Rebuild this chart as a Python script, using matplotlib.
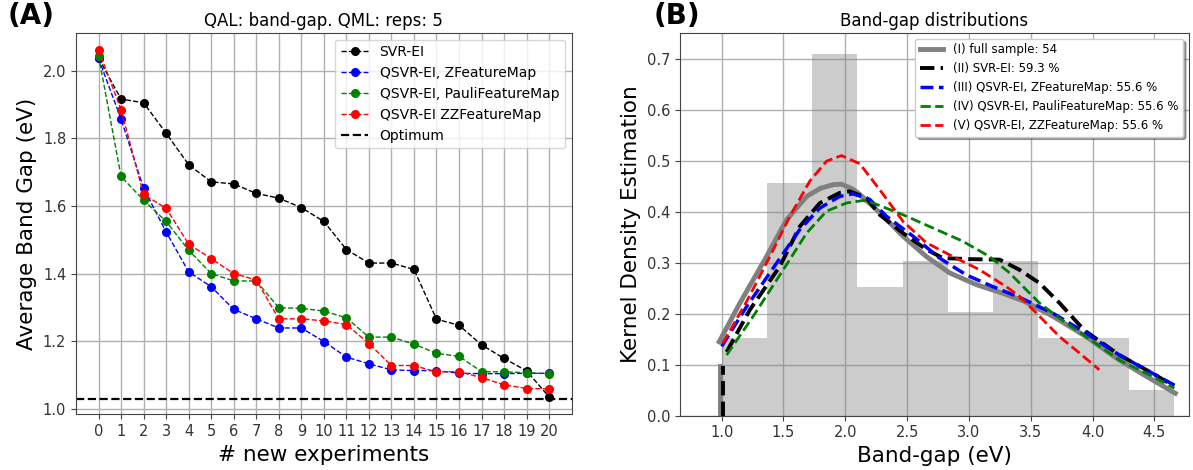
import numpy as np
import matplotlib
matplotlib.use('Agg')
import matplotlib.pyplot as plt

# --- panel A: average band gap vs number of new experiments ---
n_exp = list(range(21))
svr_ei = [2.037, 1.916, 1.905, 1.815, 1.722, 1.671, 1.665, 1.637, 1.623, 1.595, 1.554,
          1.471, 1.431, 1.431, 1.412, 1.265, 1.247, 1.189, 1.149, 1.112, 1.035]
qsvr_z = [2.036, 1.857, 1.652, 1.523, 1.405, 1.361, 1.294, 1.266, 1.239, 1.239, 1.199,
          1.153, 1.133, 1.115, 1.113, 1.113, 1.105, 1.104, 1.104, 1.105, 1.105]
qsvr_pauli = [2.044, 1.687, 1.617, 1.554, 1.469, 1.400, 1.378, 1.378, 1.299, 1.297, 1.289,
              1.269, 1.212, 1.212, 1.191, 1.164, 1.155, 1.110, 1.109, 1.107, 1.103]
qsvr_zz = [2.061, 1.885, 1.634, 1.593, 1.487, 1.444, 1.400, 1.381, 1.266, 1.266, 1.260,
           1.249, 1.193, 1.128, 1.128, 1.109, 1.110, 1.092, 1.071, 1.060, 1.059]
optimum = 1.03

# --- panel B: histogram of the full sample (counts per bin) ---
bin_edges = [1.0, 1.366, 1.732, 2.098, 2.464, 2.83, 3.196, 3.562, 3.928, 4.294, 4.66]
bin_counts = [3, 9, 14, 5, 6, 4, 6, 3, 3, 1]

# kde curves
kde_full_x = [0.98, 1.148, 1.363, 1.525, 1.687, 1.80, 1.902, 1.97, 2.063, 2.117, 2.279,
              2.467, 2.656, 2.844, 3.06, 3.275, 3.45, 3.679, 3.948, 4.217, 4.486, 4.67]
kde_full_y = [0.145, 0.221, 0.312, 0.384, 0.430, 0.446, 0.453, 0.454, 0.444, 0.434, 0.398,
              0.352, 0.312, 0.280, 0.257, 0.240, 0.224, 0.195, 0.155, 0.109, 0.070, 0.044]
kde_svr_x = [1.04, 1.229, 1.471, 1.632, 1.794, 1.955, 2.036, 2.171, 2.279, 2.467, 2.656,
             2.79, 3.006, 3.248, 3.41, 3.571, 3.733, 3.894, 3.948, 4.217, 4.486, 4.66]
kde_svr_y = [0.125, 0.208, 0.293, 0.371, 0.417, 0.437, 0.440, 0.427, 0.394, 0.358, 0.326,
             0.309, 0.307, 0.306, 0.286, 0.260, 0.221, 0.178, 0.165, 0.119, 0.083, 0.058]
kde_z_x = [1.0, 1.202, 1.444, 1.632, 1.794, 1.955, 2.063, 2.198, 2.333, 2.548, 2.763,
           2.979, 3.194, 3.41, 3.679, 3.948, 4.217, 4.486, 4.662]
kde_z_y = [0.136, 0.214, 0.299, 0.365, 0.407, 0.430, 0.435, 0.424, 0.391, 0.352, 0.309,
           0.276, 0.253, 0.232, 0.201, 0.162, 0.119, 0.083, 0.060]
kde_pauli_x = [1.04, 1.255, 1.498, 1.687, 1.848, 2.01, 2.144, 2.225, 2.467, 2.709, 2.951,
               3.167, 3.329, 3.41, 3.571, 3.733, 3.948, 4.217, 4.486, 4.662]
kde_pauli_y = [0.119, 0.195, 0.286, 0.358, 0.401, 0.417, 0.422, 0.417, 0.394, 0.368, 0.342,
               0.312, 0.280, 0.260, 0.221, 0.191, 0.155, 0.109, 0.077, 0.054]
kde_zz_x = [1.008, 1.202, 1.39, 1.552, 1.713, 1.848, 1.969, 2.117, 2.279, 2.467, 2.656,
            2.871, 3.087, 3.302, 3.41, 3.571, 3.733, 3.894, 4.055]
kde_zz_y = [0.142, 0.224, 0.312, 0.391, 0.460, 0.499, 0.510, 0.494, 0.443, 0.381, 0.339,
            0.312, 0.286, 0.253, 0.234, 0.195, 0.155, 0.123, 0.090]
# short vertical pieces at the lower edge
stub_full = ([0.99, 0.99], [0.0, 0.097])
stub_svr = ([1.013, 1.013], [0.0, 0.097])

full_label = '(I) full sample: 54'
labels_b = ['(II) SVR-EI: 59.3 %', '(III) QSVR-EI, ZFeatureMap: 55.6 %',
            '(IV) QSVR-EI, PauliFeatureMap: 55.6 %', '(V) QSVR-EI, ZZFeatureMap: 55.6 %']

plt.rcParams['axes.edgecolor'] = '#444444'
plt.rcParams['xtick.color'] = '#444444'
plt.rcParams['ytick.color'] = '#444444'
plt.rcParams['xtick.labelcolor'] = '#333333'
plt.rcParams['ytick.labelcolor'] = '#333333'

fig = plt.figure(figsize=(11.93, 4.70), dpi=100)
ax1 = fig.add_axes([0.0637, 0.1185, 0.4155, 0.812])
ax2 = fig.add_axes([0.570, 0.1155, 0.4266, 0.815])

# panel A
kw = dict(ls='--', lw=1, marker='o', ms=5.5)
ax1.plot(n_exp, svr_ei, color='black', label='SVR-EI', **kw)
ax1.plot(n_exp, qsvr_z, color='blue', label='QSVR-EI, ZFeatureMap', **kw)
ax1.plot(n_exp, qsvr_pauli, color='green', label='QSVR-EI, PauliFeatureMap', **kw)
ax1.plot(n_exp, qsvr_zz, color='red', label='QSVR-EI ZZFeatureMap', **kw)
ax1.axhline(optimum, color='black', ls='--', lw=1.6, label='Optimum')
ax1.set_xticks(n_exp)
ax1.set_yticks(np.arange(1.0, 2.01, 0.2))
ax1.grid(True, color='#b0b0b0', lw=1)
ax1.tick_params(labelsize=10.5)
ax1.set_xlabel('# new experiments', fontsize=15.5)
ax1.set_ylabel('Average Band Gap (eV)', fontsize=15.5)
ax1.set_title('QAL: band-gap. QML: reps: 5', fontsize=12, pad=5)
ax1.legend(loc='upper right', fontsize=10)

# panel B
centers = [(bin_edges[i] + bin_edges[i + 1]) / 2 for i in range(len(bin_counts))]
ax2.hist(centers, bins=bin_edges, weights=bin_counts, density=True,
         color='gray', alpha=0.4)
ax2.plot(kde_full_x, kde_full_y, color='gray', lw=3.5, label=full_label)
ax2.plot(kde_svr_x, kde_svr_y, color='black', ls='--', lw=2.8, label=labels_b[0])
ax2.plot(kde_z_x, kde_z_y, color='blue', ls='--', lw=2.5, label=labels_b[1])
ax2.plot(kde_pauli_x, kde_pauli_y, color='green', ls='--', lw=2, label=labels_b[2])
ax2.plot(kde_zz_x, kde_zz_y, color='red', ls='--', lw=2, label=labels_b[3])
ax2.plot(*stub_full, color='gray', lw=3.5)
ax2.plot(*stub_svr, color='black', ls='--', lw=2.8)
ax2.set_xlim(0.663, 4.78)
ax2.set_ylim(0, 0.751)
ax2.set_xticks(np.arange(1.0, 4.51, 0.5))
ax2.set_yticks(np.arange(0, 0.71, 0.1))
ax2.grid(True, color='#b0b0b0', lw=1)
ax2.set_axisbelow(True)
ax2.tick_params(labelsize=10.5)
ax2.set_xlabel('Band-gap (eV)', fontsize=15.5)
ax2.set_ylabel('Kernel Density Estimation', fontsize=15.5)
ax2.set_title('Band-gap distributions', fontsize=12, pad=5)
ax2.legend(loc='upper right', fontsize=8.5, shadow=True, framealpha=1)

fig.text(0.006, 0.995, '(A)', fontsize=20, fontweight='bold', va='top')
fig.text(0.548, 0.995, '(B)', fontsize=20, fontweight='bold', va='top')

fig.savefig('out.png', dpi=100)
